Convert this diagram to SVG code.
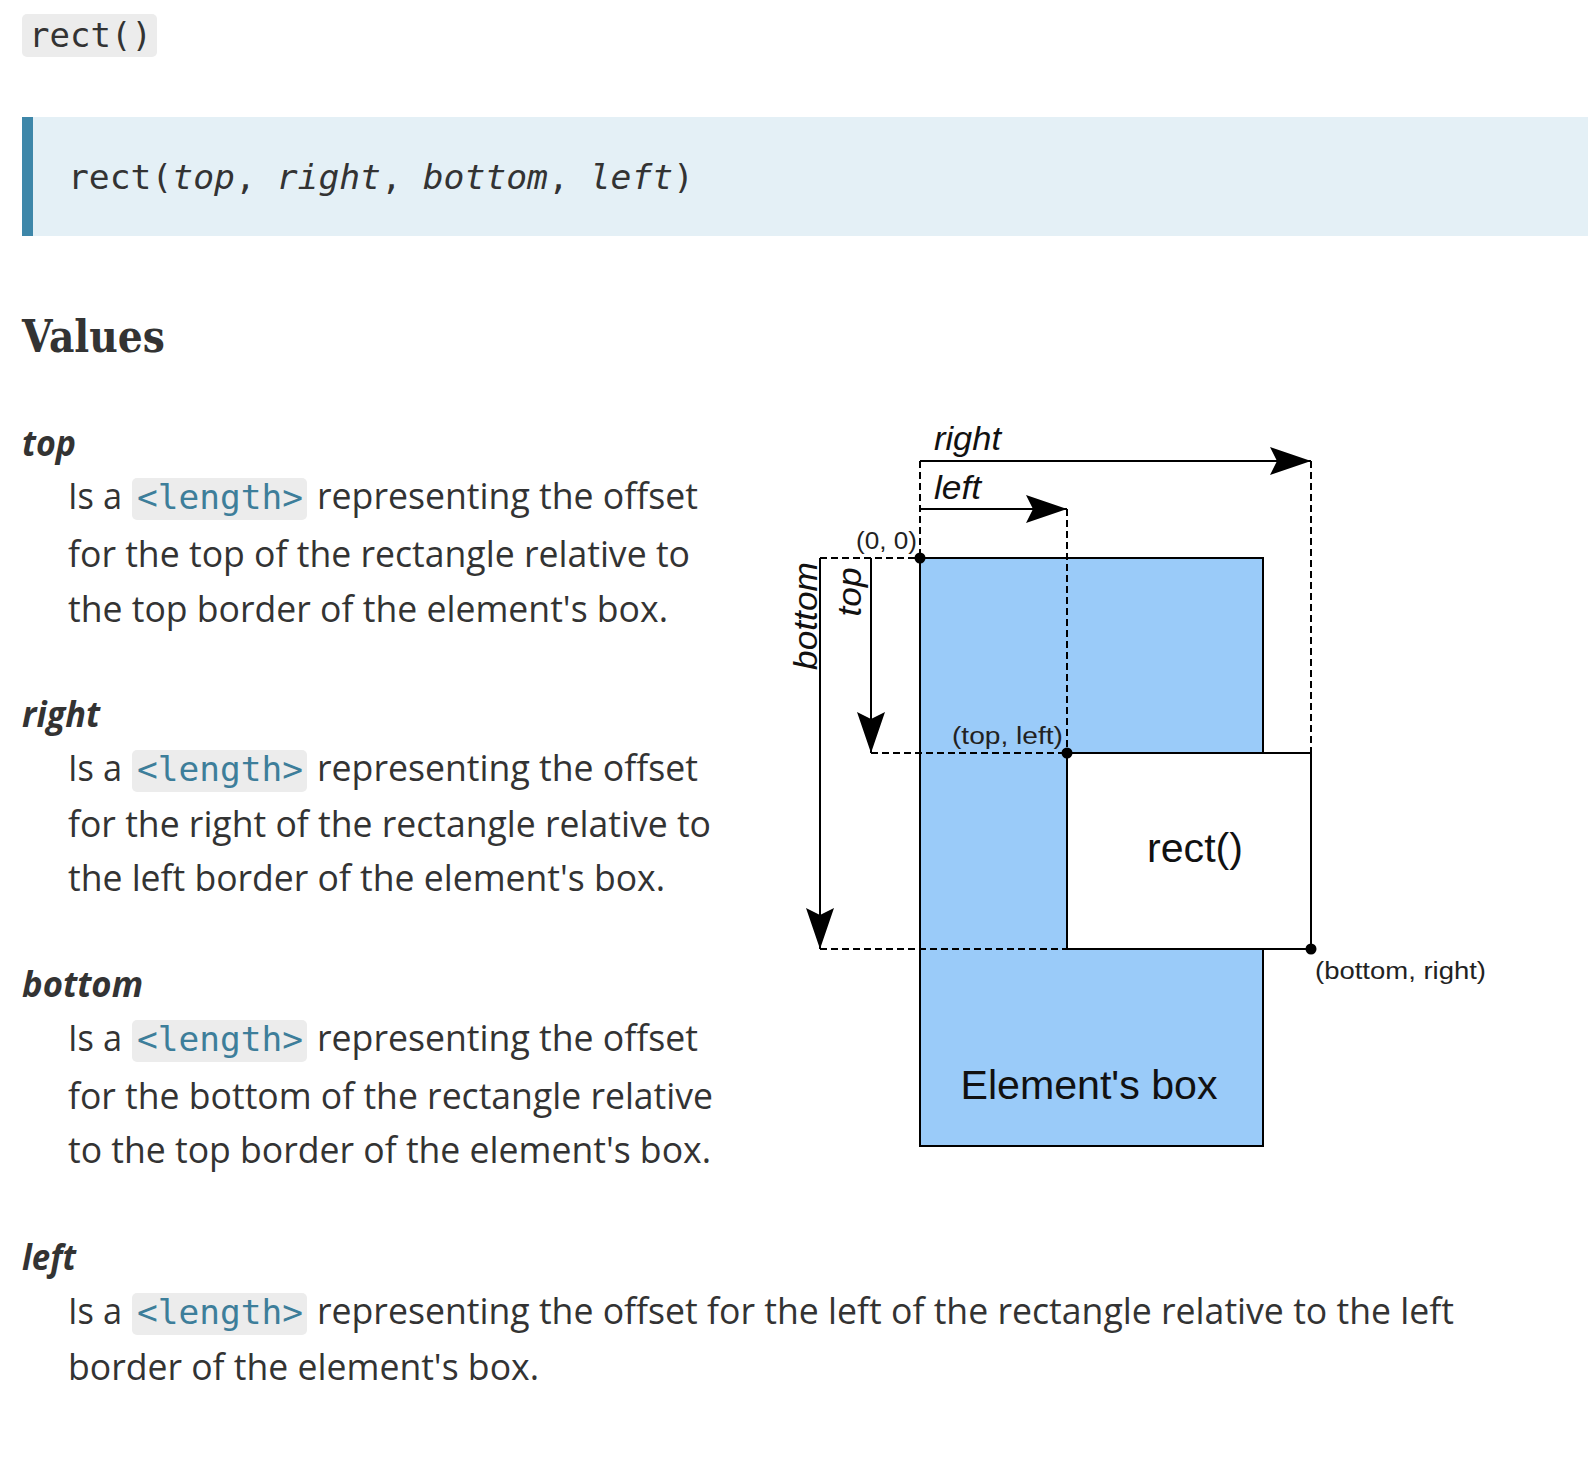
<svg xmlns="http://www.w3.org/2000/svg" width="1588" height="1474" viewBox="0 0 1588 1474">
<style>
.body{font-family:"Open Sans","Noto Sans",sans-serif;font-size:36px;fill:#333333}
.h{font-family:"Open Sans","Noto Sans",sans-serif;font-size:36px;font-weight:700;font-style:italic;fill:#333333}
.code{font-family:"DejaVu Sans Mono","Liberation Mono",monospace;font-size:33px;fill:#3d7e9a}
.mono{font-family:"DejaVu Sans Mono","Liberation Mono",monospace;font-size:34px;fill:#333333}
.chip{fill:#ececec}
.dg{font-family:"Liberation Sans",Arial,sans-serif;fill:#111111}
.dgi{font-family:"Liberation Sans",Arial,sans-serif;font-style:italic;font-size:34px;fill:#111111}
.sm{font-family:"Liberation Sans",Arial,sans-serif;font-size:23px;fill:#222222}
.ln{stroke:#000;stroke-width:2;fill:none}
.dash{stroke:#000;stroke-width:2;stroke-dasharray:7 4;fill:none}
</style>
<defs>
<marker id="arr" viewBox="-44 -16 46 32" refX="0" refY="0" markerWidth="46" markerHeight="32" markerUnits="userSpaceOnUse" orient="auto">
<path d="M0,0 L-41,-14 L-34,0 L-41,14 Z" fill="#000"/>
</marker>
</defs>
<rect width="1588" height="1474" fill="#ffffff"/>

<g id="title-code">
<rect class="chip" x="22" y="14" width="135" height="43" rx="5"/>
<text class="mono" x="29" y="47" textLength="123" lengthAdjust="spacingAndGlyphs">rect()</text>
</g>

<g id="syntax">
<rect x="22" y="117" width="1566" height="119" fill="#e4f0f6"/>
<rect x="22" y="117" width="11" height="119" fill="#3e87a9"/>
<text class="mono" x="68" y="189" textLength="626" lengthAdjust="spacingAndGlyphs">rect(<tspan font-style="italic">top</tspan>, <tspan font-style="italic">right</tspan>, <tspan font-style="italic">bottom</tspan>, <tspan font-style="italic">left</tspan>)</text>
</g>

<g id="values-heading">
<text x="22" y="352" font-family="DejaVu Serif, Liberation Serif, serif" font-weight="700" font-size="45" fill="#333333" textLength="143" lengthAdjust="spacingAndGlyphs">Values</text>
</g>

<g id="def-top">
<text class="h" x="22" y="456" textLength="54" lengthAdjust="spacingAndGlyphs">top</text>
<text class="body" x="68" y="509" textLength="54" lengthAdjust="spacingAndGlyphs">Is a</text>
<rect class="chip" x="132" y="478" width="175" height="42" rx="5"/>
<text class="code" x="137" y="509" textLength="166" lengthAdjust="spacingAndGlyphs">&lt;length&gt;</text>
<text class="body" x="317" y="509" textLength="381" lengthAdjust="spacingAndGlyphs">representing the offset</text>
<text class="body" x="68" y="567" textLength="622" lengthAdjust="spacingAndGlyphs">for the top of the rectangle relative to</text>
<text class="body" x="68" y="622" textLength="600" lengthAdjust="spacingAndGlyphs">the top border of the element's box.</text>
</g>

<g id="def-right">
<text class="h" x="22" y="727" textLength="78" lengthAdjust="spacingAndGlyphs">right</text>
<text class="body" x="68" y="781" textLength="54" lengthAdjust="spacingAndGlyphs">Is a</text>
<rect class="chip" x="132" y="750" width="175" height="42" rx="5"/>
<text class="code" x="137" y="781" textLength="166" lengthAdjust="spacingAndGlyphs">&lt;length&gt;</text>
<text class="body" x="317" y="781" textLength="381" lengthAdjust="spacingAndGlyphs">representing the offset</text>
<text class="body" x="68" y="837" textLength="643" lengthAdjust="spacingAndGlyphs">for the right of the rectangle relative to</text>
<text class="body" x="68" y="891" textLength="597" lengthAdjust="spacingAndGlyphs">the left border of the element's box.</text>
</g>

<g id="def-bottom">
<text class="h" x="22" y="997" textLength="121" lengthAdjust="spacingAndGlyphs">bottom</text>
<text class="body" x="68" y="1051" textLength="54" lengthAdjust="spacingAndGlyphs">Is a</text>
<rect class="chip" x="132" y="1020" width="175" height="42" rx="5"/>
<text class="code" x="137" y="1051" textLength="166" lengthAdjust="spacingAndGlyphs">&lt;length&gt;</text>
<text class="body" x="317" y="1051" textLength="381" lengthAdjust="spacingAndGlyphs">representing the offset</text>
<text class="body" x="68" y="1109" textLength="645" lengthAdjust="spacingAndGlyphs">for the bottom of the rectangle relative</text>
<text class="body" x="68" y="1163" textLength="643" lengthAdjust="spacingAndGlyphs">to the top border of the element's box.</text>
</g>

<g id="def-left">
<text class="h" x="22" y="1270" textLength="54" lengthAdjust="spacingAndGlyphs">left</text>
<text class="body" x="68" y="1324" textLength="54" lengthAdjust="spacingAndGlyphs">Is a</text>
<rect class="chip" x="132" y="1293" width="175" height="42" rx="5"/>
<text class="code" x="137" y="1324" textLength="166" lengthAdjust="spacingAndGlyphs">&lt;length&gt;</text>
<text class="body" x="317" y="1324" textLength="1137" lengthAdjust="spacingAndGlyphs">representing the offset for the left of the rectangle relative to the left</text>
<text class="body" x="68" y="1380" textLength="471" lengthAdjust="spacingAndGlyphs">border of the element's box.</text>
</g>

<g id="element-box">
<rect x="920" y="558" width="343" height="588" fill="#9acbf9" stroke="#000" stroke-width="2"/>
<text class="dg" x="1089" y="1099" font-size="40" text-anchor="middle" textLength="257" lengthAdjust="spacingAndGlyphs">Element's box</text>
</g>

<g id="rect-box">
<rect x="1067" y="753" width="244" height="196" fill="#ffffff" stroke="#000" stroke-width="2"/>
<text class="dg" x="1195" y="862" font-size="40" text-anchor="middle" textLength="96" lengthAdjust="spacingAndGlyphs">rect()</text>
</g>

<g id="connectors">
<path class="dash" d="M920,461 V558"/>
<path class="dash" d="M1311,461 V753"/>
<path class="dash" d="M1067,509 V753"/>
<path class="dash" d="M820,558 H920"/>
<path class="dash" d="M871,753 H1067"/>
<path class="dash" d="M820,949 H1067"/>
<path class="ln" d="M920,461 H1311" marker-end="url(#arr)"/>
<path class="ln" d="M920,509 H1067" marker-end="url(#arr)"/>
<path class="ln" d="M871,558 V753" marker-end="url(#arr)"/>
<path class="ln" d="M820,558 V949" marker-end="url(#arr)"/>
</g>

<g id="points">
<circle cx="920" cy="558" r="5.5" fill="#000"/>
<circle cx="1067" cy="753" r="5.5" fill="#000"/>
<circle cx="1311" cy="949" r="5.5" fill="#000"/>
</g>

<g id="labels">
<text class="dgi" x="934" y="450" textLength="67" lengthAdjust="spacingAndGlyphs">right</text>
<text class="dgi" x="934" y="499" textLength="47" lengthAdjust="spacingAndGlyphs">left</text>
<text class="dgi" transform="translate(817,616) rotate(-90)" text-anchor="middle" textLength="108" lengthAdjust="spacingAndGlyphs">bottom</text>
<text class="dgi" transform="translate(861,592) rotate(-90)" text-anchor="middle" textLength="49" lengthAdjust="spacingAndGlyphs">top</text>
<text class="sm" x="856" y="549" textLength="61" lengthAdjust="spacingAndGlyphs">(0, 0)</text>
<text class="sm" x="952" y="744" textLength="111" lengthAdjust="spacingAndGlyphs">(top, left)</text>
<text class="sm" x="1315" y="979" textLength="171" lengthAdjust="spacingAndGlyphs">(bottom, right)</text>
</g>
</svg>
